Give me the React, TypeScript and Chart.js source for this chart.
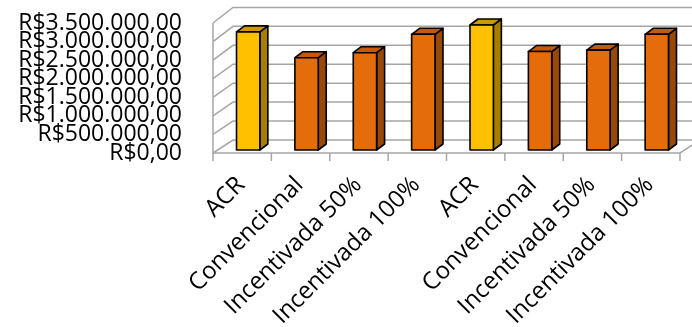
import React, { useEffect, useRef } from "react";
import { Chart, registerables } from "chart.js";

Chart.register(...registerables);

const categories = [
  "ACR",
  "Convencional",
  "Incentivada 50%",
  "Incentivada 100%",
  "ACR",
  "Convencional",
  "Incentivada 50%",
  "Incentivada 100%",
];
const values = [3180000, 2485000, 2620000, 3115000, 3365000, 2650000, 2690000, 3115000];
const yTickValues = [0, 500000, 1000000, 1500000, 2000000, 2500000, 3000000, 3500000];

const COLORS = {
  acr: { front: "#FFC000", side: "#A87E00", top: "#CC9A00" },
  other: { front: "#E46C0A", side: "#984807", top: "#C25A0A" },
};
const GRID = "#A6A6A6";
const FONT = "'Open Sans'";

function brl(v: number): string {
  const s = Math.round(v).toString().replace(/\B(?=(\d{3})+(?!\d))/g, ".");
  return "R$" + s + ",00";
}

const palette = (i: number) => (categories[i] === "ACR" ? COLORS.acr : COLORS.other);

const excel3d = {
  id: "excel3d",
  beforeDatasetsDraw(chart: any) {
    const { ctx, chartArea, scales } = chart;
    const { left, right, bottom } = chartArea;
    const y = scales.y;
    const x = scales.x;
    const DX = 20;
    const DY = 13;
    const BACK = 1.02;
    const W = chart.width;
    ctx.save();
    ctx.strokeStyle = GRID;
    ctx.lineWidth = 1.5;
    ctx.lineJoin = "miter";
    yTickValues.forEach((v) => {
      const yf = y.getPixelForValue(v);
      const yb = bottom - DY - (bottom - yf) * BACK;
      ctx.beginPath();
      ctx.moveTo(left, yf);
      ctx.lineTo(left + DX, yb);
      ctx.lineTo(W + 5, yb);
      ctx.stroke();
    });
    ctx.beginPath();
    ctx.moveTo(left, y.getPixelForValue(yTickValues[yTickValues.length - 1]));
    ctx.lineTo(left, bottom);
    ctx.lineTo(right, bottom);
    ctx.lineTo(right + DX, bottom - DY);
    ctx.stroke();
    for (let i = 0; i <= categories.length; i++) {
      const px = x.getPixelForValue(i - 0.5);
      ctx.beginPath();
      ctx.moveTo(px, bottom);
      ctx.lineTo(px, bottom + 8);
      ctx.stroke();
    }
    ctx.restore();
  },
  beforeDatasetDraw() {
    return false;
  },
  afterDatasetsDraw(chart: any) {
    const { ctx } = chart;
    const meta = chart.getDatasetMeta(0);
    const FX = 6;
    const FY = 3;
    const SX = 8;
    const SY = 6;
    ctx.save();
    ctx.strokeStyle = "#000";
    ctx.lineWidth = 1.6;
    ctx.lineJoin = "round";
    meta.data.forEach((el: any, i: number) => {
      const p = el.getProps(["x", "y", "base", "width"], true);
      const c = palette(i);
      const x0 = p.x - p.width / 2 + FX;
      const x1 = p.x + p.width / 2 + FX;
      const yt = p.y - FY;
      const yb = p.base - FY;
      ctx.beginPath();
      ctx.moveTo(x1, yt);
      ctx.lineTo(x1 + SX, yt - SY);
      ctx.lineTo(x1 + SX, yb - SY);
      ctx.lineTo(x1, yb);
      ctx.closePath();
      ctx.fillStyle = c.side;
      ctx.fill();
      ctx.stroke();
      ctx.beginPath();
      ctx.moveTo(x0, yt);
      ctx.lineTo(x0 + SX, yt - SY);
      ctx.lineTo(x1 + SX, yt - SY);
      ctx.lineTo(x1, yt);
      ctx.closePath();
      ctx.fillStyle = c.top;
      ctx.fill();
      ctx.stroke();
      ctx.beginPath();
      ctx.rect(x0, yt, x1 - x0, yb - yt);
      ctx.fillStyle = c.front;
      ctx.fill();
      ctx.stroke();
    });
    ctx.restore();
  },
};

export default function App() {
  const ref = useRef<HTMLCanvasElement | null>(null);
  useEffect(() => {
    if (!ref.current) return;
    const chart = new Chart(ref.current, {
      type: "bar",
      data: {
        labels: categories,
        datasets: [
          {
            data: values,
            backgroundColor: categories.map((_, i) => palette(i).front),
            borderColor: "#000",
            borderWidth: 1,
            barPercentage: 0.4,
            categoryPercentage: 1,
          },
        ],
      },
      options: {
        responsive: false,
        animation: false,
        layout: { padding: { left: 0, top: 23, right: 12, bottom: 0 } },
        plugins: { legend: { display: false }, tooltip: { enabled: false } },
        scales: {
          x: {
            grid: { display: false, drawTicks: false },
            border: { display: false },
            ticks: {
              maxRotation: 45,
              minRotation: 45,
              autoSkip: false,
              padding: 18,
              labelOffset: -1,
              color: "#000",
              font: { family: FONT, size: 24 },
            },
            afterFit(scale: any) {
              scale.height = 327 - 153;
            },
          },
          y: {
            min: 0,
            max: 3500000,
            grid: { display: false, drawTicks: false },
            border: { display: false },
            afterBuildTicks(scale: any) {
              scale.ticks = yTickValues.map((v) => ({ value: v }));
            },
            ticks: {
              autoSkip: false,
              padding: 31,
              color: "#000",
              font: { family: FONT, size: 23, lineHeight: 1 },
              callback: (v: any) => brl(Number(v)),
            },
            afterFit(scale: any) {
              scale.width = 213;
              scale.paddingTop = 10;
              scale.paddingBottom = 10;
            },
          },
        },
      },
      plugins: [excel3d],
    });
    return () => chart.destroy();
  }, []);
  return (
    <div style={{ position: "absolute", left: 0, top: 0, width: 692, height: 327, background: "#fff" }}>
      <canvas ref={ref} width={692} height={327} style={{ display: "block" }} />
    </div>
  );
}
